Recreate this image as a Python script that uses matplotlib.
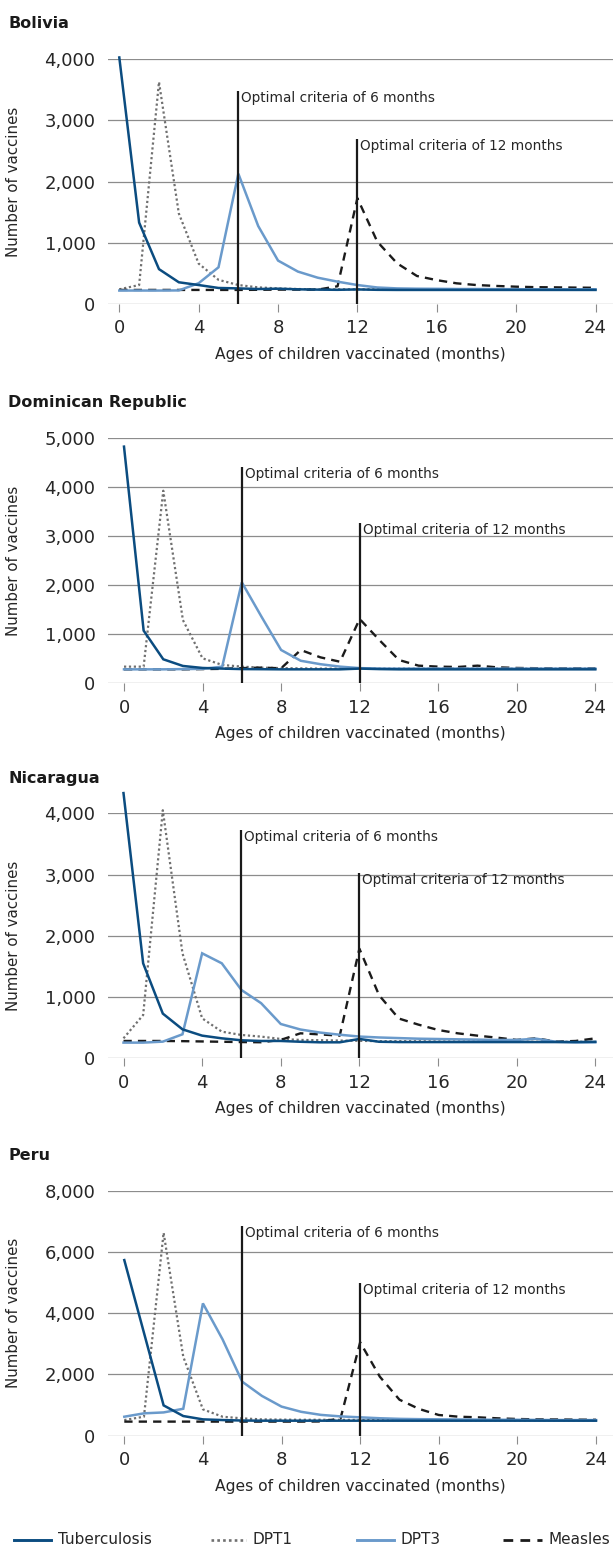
import matplotlib
matplotlib.use("Agg")
import matplotlib.pyplot as plt
from matplotlib.lines import Line2D
import matplotlib.transforms as mtransforms

FONT = ["Liberation Sans Narrow", "DejaVu Sans Condensed", "DejaVu Sans"]
plt.rcParams["font.family"] = FONT

# ---- data: number of vaccines by age of child (months) ----
months = list(range(25))
series_names = ["Tuberculosis", "DPT1", "DPT3", "Measles"]
countries = ["Bolivia", "Dominican Republic", "Nicaragua", "Peru"]

bolivia_tb = [4030, 1330, 570, 355, 310, 262, 255, 245, 250, 240, 235, 232, 238,
              232, 230, 230, 230, 230, 230, 230, 230, 230, 230, 230, 230]
bolivia_dpt1 = [240, 310, 3630, 1480, 660, 395, 310, 272, 255, 245, 240, 240, 240,
                240, 240, 240, 240, 240, 240, 240, 240, 240, 240, 240, 240]
bolivia_dpt3 = [220, 220, 220, 222, 340, 600, 2130, 1275, 710, 530, 430, 365, 310,
                270, 255, 250, 248, 245, 245, 243, 242, 240, 240, 240, 240]
bolivia_measles = [230, 230, 230, 230, 230, 230, 230, 232, 235, 235, 235, 290, 1730,
                   1020, 665, 458, 390, 338, 310, 295, 283, 275, 272, 268, 265]

dr_tb = [4830, 1075, 490, 354, 313, 300, 290, 288, 285, 285, 285, 285, 300,
         290, 285, 285, 285, 285, 285, 285, 285, 285, 285, 285, 285]
dr_dpt1 = [340, 340, 3930, 1290, 510, 375, 340, 320, 310, 305, 300, 300, 300,
           300, 300, 300, 300, 300, 300, 300, 300, 300, 300, 300, 300]
dr_dpt3 = [285, 285, 285, 290, 295, 340, 2060, 1360, 680, 460, 390, 340, 310,
           300, 300, 300, 300, 300, 300, 300, 300, 300, 300, 300, 300]
dr_measles = [285, 285, 285, 285, 290, 295, 310, 320, 306, 680, 530, 440, 1313,
              884, 476, 360, 340, 333, 360, 326, 313, 308, 305, 305, 305]

nic_tb = [4330, 1550, 730, 473, 370, 326, 294, 283, 283, 270, 261, 261, 316,
          270, 265, 265, 265, 265, 265, 265, 265, 265, 265, 265, 270]
nic_dpt1 = [326, 707, 4050, 1714, 653, 435, 381, 354, 316, 300, 295, 290, 285,
            280, 280, 278, 275, 275, 275, 272, 270, 270, 270, 270, 270]
nic_dpt3 = [256, 256, 272, 392, 1714, 1551, 1115, 900, 560, 470, 420, 385, 355,
            340, 330, 320, 315, 310, 305, 300, 300, 320, 270, 260, 260]
nic_measles = [283, 283, 283, 280, 275, 270, 265, 262, 300, 408, 390, 370, 1790,
               1030, 650, 550, 463, 408, 370, 337, 300, 326, 272, 283, 326]

peru_tb = [5734, 3360, 990, 642, 533, 511, 495, 490, 490, 490, 490, 490, 490,
           490, 490, 490, 490, 490, 490, 490, 490, 490, 490, 490, 490]
peru_dpt1 = [511, 620, 6627, 2579, 860, 620, 566, 533, 525, 520, 520, 518, 515,
             512, 510, 508, 505, 505, 503, 502, 500, 500, 500, 500, 500]
peru_dpt3 = [620, 730, 760, 880, 4320, 3145, 1763, 1300, 950, 780, 680, 630, 600,
             570, 550, 540, 535, 530, 525, 520, 520, 515, 510, 510, 510]
peru_measles = [460, 460, 460, 460, 460, 460, 460, 460, 460, 460, 465, 560, 3050,
                1928, 1176, 873, 676, 621, 600, 567, 545, 534, 530, 525, 520]

# heights of the optimal-criteria markers (6 and 12 months)
criteria_months = [6, 12]
criteria_tops = {
    "Bolivia": [3480, 2700],
    "Dominican Republic": [4420, 3280],
    "Nicaragua": [3720, 3020],
    "Peru": [6860, 5000],
}
y_max = {"Bolivia": 4000, "Dominican Republic": 5000, "Nicaragua": 4000, "Peru": 8000}
x_ticks = [0, 4, 8, 12, 16, 20, 24]

data = {
    "Bolivia": [bolivia_tb, bolivia_dpt1, bolivia_dpt3, bolivia_measles],
    "Dominican Republic": [dr_tb, dr_dpt1, dr_dpt3, dr_measles],
    "Nicaragua": [nic_tb, nic_dpt1, nic_dpt3, nic_measles],
    "Peru": [peru_tb, peru_dpt1, peru_dpt3, peru_measles],
}

# ---- styles ----
styles = {
    "Tuberculosis": dict(color="#0b4c80", lw=1.8, ls="-", zorder=5),
    "DPT1": dict(color="#707070", lw=1.6, ls=(0, (1, 1.2)), zorder=2),
    "DPT3": dict(color="#6a9acb", lw=1.8, ls="-", zorder=4),
    "Measles": dict(color="#1b1b1b", lw=1.7, ls=(0, (3.5, 2.6)), zorder=3),
}
draw_order = ["DPT1", "Measles", "DPT3", "Tuberculosis"]

W, H = 613, 1551
DPI = 100
fig = plt.figure(figsize=(W / DPI, H / DPI), dpi=DPI)

# panel geometry in pixels: (zero line y, top gridline y, x of month 0, x of month 24, title y)
panels = {
    "Bolivia": (304.0, 59.3, 119.3, 595.5, 24),
    "Dominican Republic": (683.3, 438.3, 124.0, 595.3, 403),
    "Nicaragua": (1058.3, 813.3, 123.5, 595.3, 778),
    "Peru": (1435.7, 1190.7, 124.3, 596.0, 1155),
}
AX_LEFT = 108.0
TEXT = "#262626"
GRID = "#8c8c8c"

for country in countries:
    y0, ytop, x0, x24, ty = panels[country]
    ax = fig.add_axes([AX_LEFT / W, 1 - y0 / H, (W - AX_LEFT) / W, (y0 - ytop) / H])
    ppm = (x24 - x0) / 24.0
    ax.set_xlim(-(x0 - AX_LEFT) / ppm, 24 + (W - x24) / ppm)
    ymax = y_max[country]
    ax.set_ylim(0, ymax)

    yt = list(range(0, ymax + 1, 1000 if ymax <= 5000 else 2000))
    ax.set_yticks(yt)
    ax.set_yticklabels([f"{v:,}" for v in yt])
    ax.set_xticks(x_ticks)
    ax.set_xticklabels([str(v) for v in x_ticks])

    for v in yt:
        ax.axhline(v, color=GRID, lw=0.9, zorder=1)

    for s in ax.spines.values():
        s.set_visible(False)
    ax.tick_params(axis="y", length=0, pad=9, labelsize=13, labelcolor=TEXT)
    ax.tick_params(axis="x", length=6, width=0.8, color=GRID, pad=5,
                   labelsize=13, labelcolor=TEXT)
    ax.set_ylabel("Number of vaccines", fontsize=10.8, color=TEXT)
    ax.yaxis.set_label_coords(-(AX_LEFT - 21) / (W - AX_LEFT), 0.5)
    ax.set_xlabel("Ages of children vaccinated (months)", fontsize=11.2, color=TEXT,
                  labelpad=7)

    vals = dict(zip(series_names, data[country]))
    for name in draw_order:
        st = styles[name]
        ax.plot(months, vals[name], color=st["color"], lw=st["lw"], ls=st["ls"],
                zorder=st["zorder"], clip_on=False, solid_joinstyle="miter")

    offset = mtransforms.offset_copy(ax.transData, fig=fig, x=3, y=0, units="dots")
    for m, top, lab in zip(criteria_months, criteria_tops[country],
                           ["Optimal criteria of 6 months", "Optimal criteria of 12 months"]):
        ax.vlines(m, 0, top, color="#1a1a1a", lw=1.6, zorder=6)
        ax.text(m, top, lab, transform=offset, ha="left", va="top",
                fontsize=9.8, color=TEXT, zorder=7)

    fig.text(8 / W, 1 - ty / H, country, fontsize=11.5, fontweight="bold",
             color="#1a1a1a", ha="left", va="center")

# ---- legend along the bottom ----
leg_y = 1 - 1540 / H
leg_items = [("Tuberculosis", 14, 51, 58), ("DPT1", 211, 246, 253),
             ("DPT3", 357, 394, 400), ("Measles", 503, 542, 549)]
for name, xa, xb, xt in leg_items:
    st = styles[name]
    fig.add_artist(Line2D([xa / W, xb / W], [leg_y, leg_y], transform=fig.transFigure,
                          color=st["color"], lw=st["lw"] + 0.3, ls=st["ls"]))
    fig.text(xt / W, leg_y, name, fontsize=11, color=TEXT, ha="left", va="center")

fig.savefig("out.png", dpi=DPI, facecolor="white")
